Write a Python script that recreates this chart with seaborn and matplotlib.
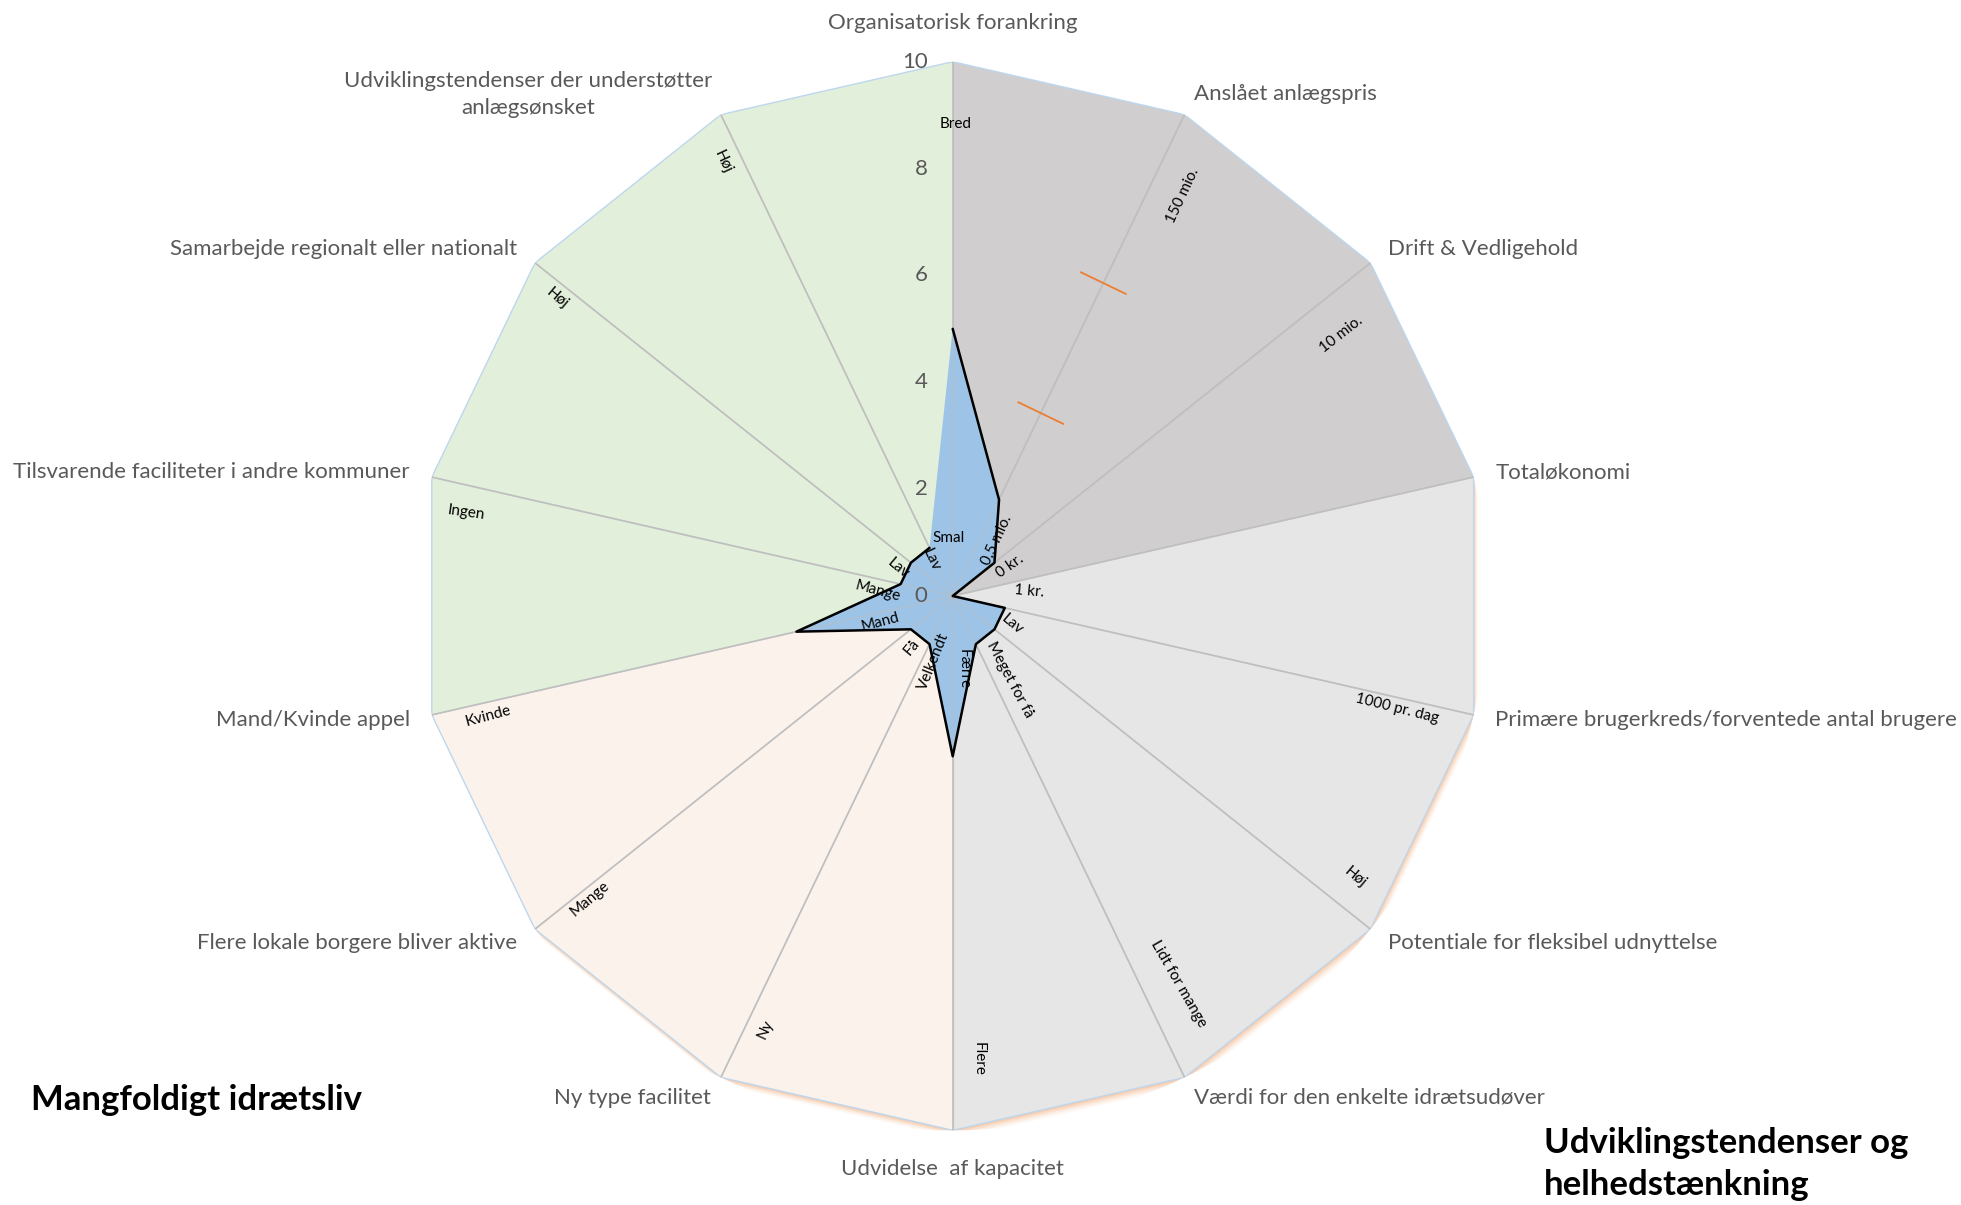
import numpy as np
import matplotlib
matplotlib.use("Agg")
import matplotlib.pyplot as plt
import matplotlib.transforms as mtransforms
import seaborn as sns
import pandas as pd

# ---------------- data ----------------
categories = [
    "Organisatorisk forankring",
    "Anslået anlægspris",
    "Drift & Vedligehold",
    "Totaløkonomi",
    "Primære brugerkreds/forventede antal brugere",
    "Potentiale for fleksibel udnyttelse",
    "Værdi for den enkelte idrætsudøver",
    "Udvidelse  af kapacitet",
    "Ny type facilitet",
    "Flere lokale borgere bliver aktive",
    "Mand/Kvinde appel",
    "Tilsvarende faciliteter i andre kommuner",
    "Samarbejde regionalt eller nationalt",
    "Udviklingstendenser der understøtter\nanlægsønsket",
]
scores = [5, 2, 1, 0, 1, 1, 1, 3, 1, 1, 3, 1, 1, 1]

bg_green = [10, 0, 0, 0, 0, 0, 0, 0, 0, 0, 10, 10, 10, 10]
bg_darkgray = [10, 10, 10, 10, 0, 0, 0, 0, 0, 0, 0, 0, 0, 0]
bg_lightgray = [0, 0, 0, 10, 10, 10, 10, 10, 0, 0, 0, 0, 0, 0]
bg_peach = [0, 0, 0, 0, 0, 0, 0, 10, 10, 10, 10, 0, 0, 0]

price_marks = [3.8, 6.5]          # orange marks on "Anslået anlægspris"
radial_ticks = [0, 2, 4, 6, 8, 10]

# scale-end annotations: (text, angle deg, radius, rotation)
scale_notes = [
    ("Bred", 0.4, 8.83, 0), ("Smal", -4, 1.08, 0),
    ("150 mio.", 29.9, 8.64, 65), ("0,5 mio.", 38, 1.33, 65),
    ("10 mio.", 56.1, 8.77, 38), ("0 kr.", 62.4, 1.21, 35),
    ("1 kr.", 86.8, 1.44, -5),
    ("1000 pr. dag", 104.2, 8.57, -14), ("Lav", 116, 1.23, -40),
    ("Høj", 125, 9.19, -40),
    ("Lidt for mange", 149.8, 8.39, -60), ("Meget for få", 145.7, 1.9, -62),
    ("Flere", 176.8, 8.68, -90), ("Færre", 171.7, 1.39, -90),
    ("Ny", 203.4, 8.84, 65), ("Velkendt", 195.9, 1.28, 68),
    ("Mange", 230.2, 8.84, 40), ("Få", 218.6, 1.23, 50),
    ("Kvinde", 255.5, 8.98, 15), ("Mand", 250.5, 1.44, 15),
    ("Ingen", 279.7, 9.23, -8), ("Mange", 273.3, 1.41, -15),
    ("Høj", 307, 9.26, -40), ("Lav", 297, 1.14, -40),
    ("Høj", 332.1, 9.2, -65), ("Lav", 328.6, 0.79, -65),
]

# ---------------- style ----------------
sns.set_theme(style="white")
plt.rcParams["font.family"] = ["Lato", "DejaVu Sans"]

W, H = 1961, 1205
fig = plt.figure(figsize=(W / 100, H / 100), dpi=100)
fig.patch.set_facecolor("white")

cx, cy, R = 952.7, 596.0, 534.3
ax = fig.add_axes([(cx - R) / W, (H - cy - R) / H, 2 * R / W, 2 * R / H],
                  projection="polar")
ax.set_theta_zero_location("N")
ax.set_theta_direction(-1)
ax.set_ylim(0, 10)
ax.grid(False)
ax.spines["polar"].set_visible(False)
ax.set_xticks([])
ax.set_yticks([])
ax.patch.set_alpha(0)

n = len(categories)
theta = np.arange(n) * 2 * np.pi / n
theta_c = np.append(theta, theta[0])


def closed(v):
    return np.append(np.asarray(v, float), v[0])


outer = np.full(n, 10.0)

# soft shadow (offset down/right) behind the background sectors
for dx, dy, a in [(1, -2, 0.35), (2, -4, 0.25), (3, -6, 0.15), (4, -8, 0.08)]:
    tr = ax.transData + mtransforms.ScaledTranslation(dx / 100, dy / 100,
                                                      fig.dpi_scale_trans)
    ax.fill(theta_c, closed(outer), color="#F4B183", alpha=a, lw=0,
            transform=tr, zorder=0.5)

for vals, col in [(bg_green, "#E2EFDA"), (bg_darkgray, "#D0CECE"),
                  (bg_lightgray, "#E7E6E6"), (bg_peach, "#FBF2EC")]:
    ax.fill(theta_c, closed(vals), color=col, lw=0, zorder=1)

ax.plot(theta_c, closed(outer), color="#BDD7EE", lw=1.0, zorder=2)

# spokes
for t in theta:
    ax.plot([t, t], [0, 10], color="#BFBFBF", lw=1.2, zorder=2)

# score area
ax.fill(theta_c, closed(scores), color="#9DC3E6", lw=0, zorder=3)
for t in theta:
    ax.plot([t, t], [0, 10], color="#BFBFBF", lw=1.0, alpha=0.5, zorder=3.5)
df = pd.DataFrame({"theta": theta_c, "score": closed(scores)})
sns.lineplot(data=df, x="theta", y="score", sort=False, ax=ax,
             color="black", lw=1.8, zorder=5)
ax.set_xlabel("")
ax.set_ylabel("")
ax.set_xticks([])
ax.set_yticks([])
ax.set_ylim(0, 10)

# orange marks across the price axis
half = 0.47
tp = theta[1]
for r in price_marks:
    dt = np.arctan(half / r)
    rr = np.hypot(r, half)
    ax.plot([tp - dt, tp + dt], [rr, rr], color="#ED7D31", lw=1.3, zorder=6)

# radial tick labels
for v in radial_ticks:
    ax.annotate(str(v), xy=(0, v), xytext=(-18, 0), textcoords="offset points",
                ha="right", va="center", fontsize=16, color="#595959", zorder=7)

# category labels
CAT_FS = 16
for k, (t, lab) in enumerate(zip(theta, categories)):
    deg = np.degrees(t)
    if "\n" in lab:
        ax.text(np.radians(319.7), 12.3, lab, ha="center", va="center",
                fontsize=CAT_FS, color="#595959", linespacing=1.43)
        continue
    if abs(deg) < 1 or abs(deg - 180) < 1:
        ax.text(t, 10.73, lab, ha="center", va="center", fontsize=CAT_FS,
                color="#595959")
    elif deg < 180:
        ax.text(t, 10.42, lab, ha="left", va="center", fontsize=CAT_FS,
                color="#595959")
    else:
        ax.text(t, 10.42, lab, ha="right", va="center", fontsize=CAT_FS,
                color="#595959")

# scale-end notes
for txt, a, r, rot in scale_notes:
    ax.text(np.radians(a), r, txt, ha="center", va="center", rotation=rot,
            fontsize=11, color="black", zorder=4)

# group titles
fig.text(31 / W, 1 - 1100 / H, "Mangfoldigt idrætsliv", ha="left",
         va="center", fontsize=25, fontweight="bold", color="black")
fig.text(1544 / W, 1 - 1164 / H, "Udviklingstendenser og\nhelhedstænkning",
         ha="left", va="center", fontsize=25, fontweight="bold",
         color="black", linespacing=1.4)

fig.savefig("out.png", dpi=100, facecolor="white")
